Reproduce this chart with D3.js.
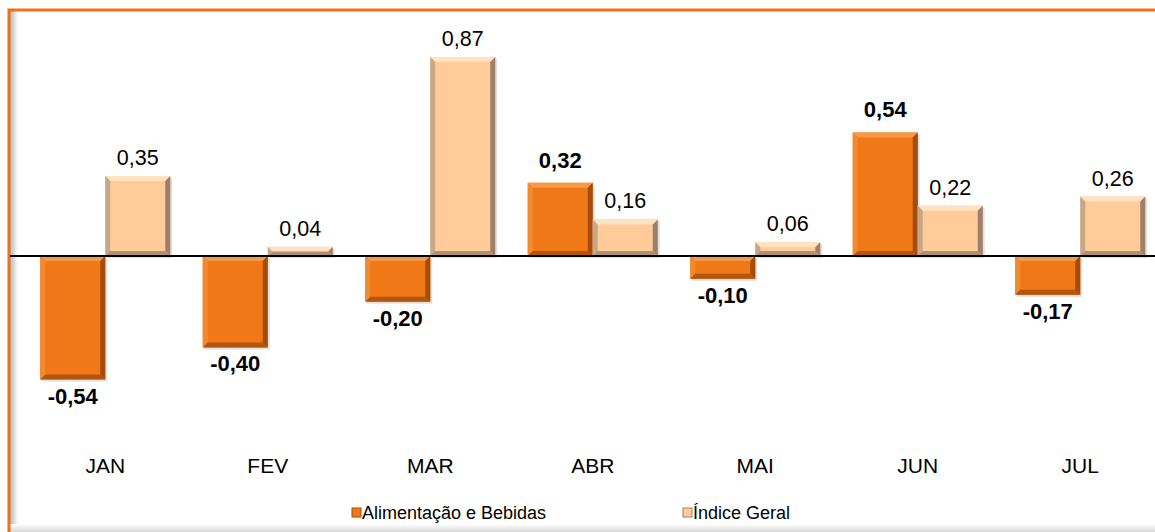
<!DOCTYPE html>
<html>
<head>
<meta charset="utf-8">
<script src="https://cdn.jsdelivr.net/npm/d3@7"></script>
<style>
  body { margin: 0; background: #fff; }
  svg { display: block; font-family: "Liberation Sans", Arial, sans-serif; }
</style>
</head>
<body>
<svg id="chart" width="1155" height="532"></svg>
<script>
// data
const months = ['JAN', 'FEV', 'MAR', 'ABR', 'MAI', 'JUN', 'JUL'];
const series = ['Alimentação e Bebidas', 'Índice Geral'];
const alimentacao = [-0.54, -0.40, -0.20, 0.32, -0.10, 0.54, -0.17];
const indiceGeral = [0.35, 0.04, 0.87, 0.16, 0.06, 0.22, 0.26];

const W = 1155, H = 532;
const svg = d3.select('#chart');
const defs = svg.append('defs');

// frame + shadows
const gl = defs.append('linearGradient').attr('id', 'shL');
gl.append('stop').attr('offset', '0%').attr('stop-color', '#b8b8b8');
gl.append('stop').attr('offset', '100%').attr('stop-color', '#fff');
const gb = defs.append('linearGradient').attr('id', 'shB').attr('x1', 0).attr('y1', 0).attr('x2', 0).attr('y2', 1);
gb.append('stop').attr('offset', '0%').attr('stop-color', '#fff');
gb.append('stop').attr('offset', '100%').attr('stop-color', '#d8d8d8');

svg.append('rect').attr('x', 10).attr('y', 11).attr('width', 8).attr('height', H - 11).attr('fill', 'url(#shL)');
svg.append('rect').attr('x', 10).attr('y', 524).attr('width', W - 10).attr('height', 8).attr('fill', 'url(#shB)');
svg.append('path')
    .attr('d', `M9,${H} V10 H${W}`)
    .attr('fill', 'none')
    .attr('stroke', '#EE7219')
    .attr('stroke-width', 3);

const x = d3.scaleBand().domain(months).range([24, 24 + 162.5 * 7]).paddingInner(0.2).paddingOuter(0.1);
const xs = d3.scaleBand().domain(series).range([0, x.bandwidth()]);
const y = d3.scaleLinear().domain([-0.54, 0.87]).range([379.5, 57]);

const styles = {
    'Alimentação e Bebidas': { main: '#F07816', light: '#F59A48', dark: '#A44C08', side: '#F28A30', label: 'bold', size: 22 },
    'Índice Geral': { main: '#FFCC99', light: '#FFE2C2', dark: '#9E8068', side: '#C6A888', label: 'normal', size: 21.5 }
};

function bevelBar(g, x0, w, v, st) {
    const y0 = Math.min(y(v), y(0)), h = Math.abs(y(v) - y(0));
    const b = Math.min(5, h / 2), x1 = x0 + w, y1 = y0 + h;
    // soft shadow
    g.append('rect').attr('x', x0 + 2).attr('y', y0 + 2).attr('width', w).attr('height', h)
        .attr('fill', '#000').attr('opacity', 0.12);
    g.append('rect').attr('x', x0).attr('y', y0).attr('width', w).attr('height', h).attr('fill', st.main);
    // top
    g.append('path').attr('d', `M${x0},${y0}H${x1}L${x1 - b},${y0 + b}H${x0 + b}Z`).attr('fill', st.light);
    // left
    g.append('path').attr('d', `M${x0},${y0}L${x0 + b},${y0 + b}V${y1 - b}L${x0},${y1}Z`).attr('fill', st.side);
    // right
    g.append('path').attr('d', `M${x1},${y0}L${x1 - b},${y0 + b}V${y1 - b}L${x1},${y1}Z`).attr('fill', st.dark);
    // bottom
    g.append('path').attr('d', `M${x0},${y1}L${x0 + b},${y1 - b}H${x1 - b}L${x1},${y1}Z`).attr('fill', st.dark).attr('opacity', 0.8);
}

const plot = svg.append('g');
const values = { 'Alimentação e Bebidas': alimentacao, 'Índice Geral': indiceGeral };
const fmt = v => v.toFixed(2).replace('.', ',');

series.forEach(s => {
    values[s].forEach((v, i) => {
        const x0 = x(months[i]) + xs(s);
        const st = styles[s];
        bevelBar(plot, x0, xs.bandwidth(), v, st);
        const ty = v >= 0 ? y(v) - (s === series[0] ? 15 : 11) : y(v) + 24;
        plot.append('text')
            .attr('x', x0 + xs.bandwidth() / 2)
            .attr('y', ty)
            .attr('text-anchor', 'middle')
            .attr('font-size', st.size)
            .attr('font-weight', st.label)
            .attr('fill', '#000')
            .text(fmt(v));
    });
});

// zero line
svg.append('line').attr('x1', 10).attr('x2', W).attr('y1', y(0)).attr('y2', y(0))
    .attr('stroke', '#000').attr('stroke-width', 2);

// category labels
svg.append('g').selectAll('text').data(months).join('text')
    .attr('x', d => x(d) + x.bandwidth() / 2)
    .attr('y', 473)
    .attr('text-anchor', 'middle')
    .attr('font-size', 21)
    .text(d => d);

// legend
const legX = [352, 683];
const leg = svg.append('g').selectAll('g').data(series).join('g')
    .attr('transform', (d, i) => `translate(${legX[i]},508)`);
leg.append('rect').attr('width', 9).attr('height', 9)
    .attr('fill', d => styles[d].main)
    .attr('stroke', d => styles[d].dark).attr('stroke-width', 1);
leg.append('text').attr('x', 10).attr('y', 11).attr('font-size', 18).text(d => d);
</script>
</body>
</html>
